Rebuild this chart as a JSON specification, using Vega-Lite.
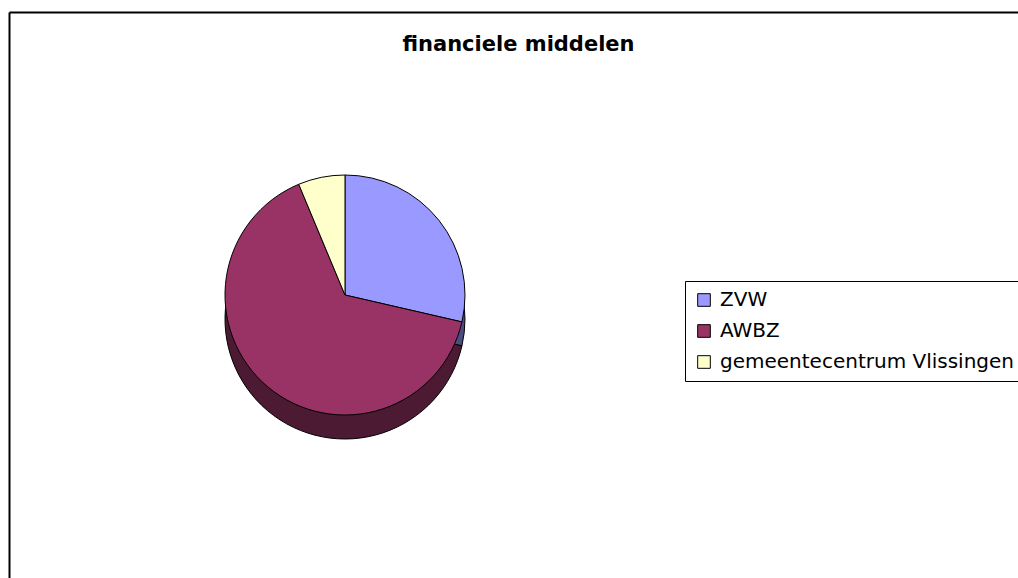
{
  "$schema": "https://vega.github.io/schema/vega-lite/v6.json",
  "width": 1009,
  "height": 566,
  "autosize": {"type": "none"},
  "padding": {"left": 9, "top": 12, "right": 0, "bottom": 0},
  "background": "white",
  "title": {
    "text": "financiele middelen",
    "font": "DejaVu Sans",
    "fontSize": 21,
    "fontWeight": "bold",
    "color": "black",
    "anchor": "middle",
    "frame": "group",
    "offset": 0,
    "baseline": "alphabetic",
    "dy": 60,
    "dx": 5
  },
  "config": {"view": {"stroke": null}},
  "data": {
    "values": [
      {"post": "ZVW", "aandeel": 28.6, "volgorde": 1},
      {"post": "AWBZ", "aandeel": 65.1, "volgorde": 2},
      {"post": "gemeentecentrum Vlissingen", "aandeel": 6.3, "volgorde": 3}
    ]
  },
  "encoding": {
    "x": {
      "datum": 0.333,
      "type": "quantitative",
      "scale": {"domain": [0, 1]},
      "axis": {"orient": "top", "domain": true, "domainColor": "black", "domainWidth": 2, "ticks": false, "labels": false, "grid": false, "title": null}
    },
    "y": {
      "datum": 0.5,
      "type": "quantitative",
      "scale": {"domain": [0, 1], "reverse": true},
      "axis": {"orient": "left", "domain": true, "domainColor": "black", "domainWidth": 2, "ticks": false, "labels": false, "grid": false, "title": null}
    },
    "theta": {"field": "aandeel", "type": "quantitative", "stack": true},
    "order": {"field": "volgorde", "type": "quantitative"}
  },
  "layer": [
    {
      "mark": {"type": "arc", "radius": 120, "yOffset": 24, "stroke": "black", "strokeWidth": 1},
      "encoding": {
        "color": {
          "field": "post",
          "type": "nominal",
          "scale": {"domain": ["ZVW", "AWBZ", "gemeentecentrum Vlissingen"], "range": ["#4C4C80", "#4D1A33", "#80806A"]},
          "legend": null
        }
      }
    },
    {
      "mark": {"type": "arc", "radius": 120, "stroke": "black", "strokeWidth": 1},
      "encoding": {
        "color": {
          "field": "post",
          "type": "nominal",
          "sort": null,
          "scale": {"domain": ["ZVW", "AWBZ", "gemeentecentrum Vlissingen"], "range": ["#9999FF", "#993366", "#FFFFCC"]},
          "legend": {
            "title": null,
            "orient": "none",
            "legendX": 676,
            "legendY": 269,
            "direction": "vertical",
            "padding": 9,
            "strokeColor": "black",
            "fillColor": "white",
            "symbolType": "square",
            "symbolSize": 160,
            "symbolStrokeColor": "black",
            "symbolStrokeWidth": 1,
            "labelFont": "DejaVu Sans",
            "labelFontSize": 20,
            "labelColor": "black",
            "labelOffset": 6,
            "labelLimit": 600,
            "rowPadding": 11
          }
        }
      }
    }
  ],
  "resolve": {"scale": {"color": "independent"}}
}
